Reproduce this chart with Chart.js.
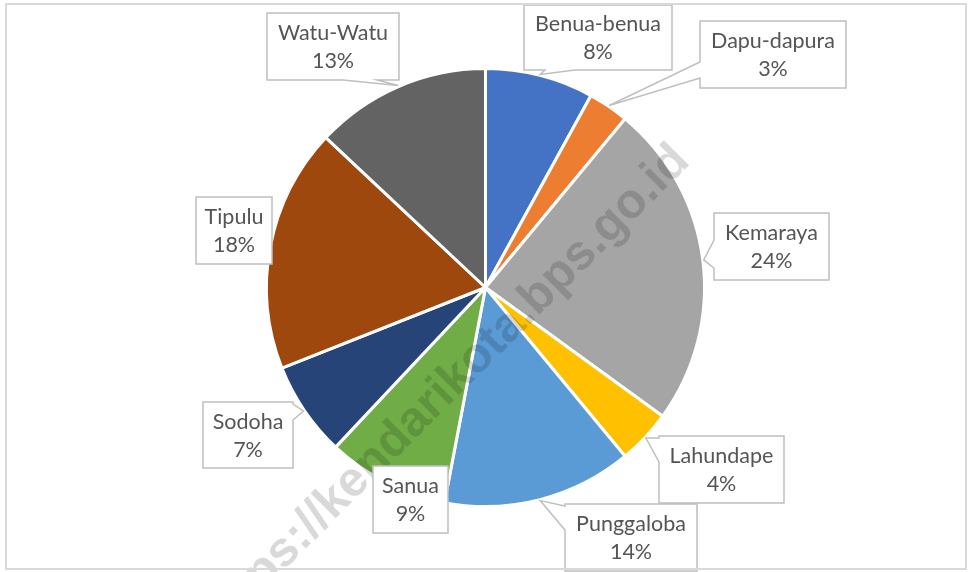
<!DOCTYPE html>
<html>
<head>
<meta charset="utf-8">
<script src="https://cdn.jsdelivr.net/npm/chart.js@4.4.1/dist/chart.umd.min.js"></script>
<style>
  html, body { margin: 0; padding: 0; background: #fff; }
  #wrap { width: 970px; height: 572px; }
</style>
</head>
<body>
<div id="wrap"><canvas id="pieChart" width="970" height="572"></canvas></div>
<script>
const kelurahan = ['Benua-benua', 'Dapu-dapura', 'Kemaraya', 'Lahundape', 'Punggaloba', 'Sanua', 'Sodoha', 'Tipulu', 'Watu-Watu'];
const persen = [8, 3, 24, 4, 14, 9, 7, 18, 13];
const warna = ['#4472C4', '#ED7D31', '#A5A5A5', '#FFC000', '#5B9BD5', '#70AD47', '#264478', '#9E480E', '#636363'];

// callout boxes: left, top, right, bottom, side of the wedge, wedge base from/to
const calloutBoxes = [
  [524, 5, 672, 70, 'bottom', 545, 575],
  [700, 21, 846, 88, 'left', 62, 78],
  [714, 213, 829, 280, 'left', 240, 268],
  [659, 436, 784, 503, 'left', 438, 462],
  [565, 504, 697, 571, 'left', 506, 530],
  [373, 466, 448, 533, null],
  [203, 402, 293, 468, 'right', 404, 420],
  [196, 197, 272, 264, null],
  [267, 13, 399, 80, 'bottom', 343, 377]
];

const total = persen.reduce((a, b) => a + b, 0);

function calloutPath(ctx, box, tip) {
  const [x1, y1, x2, y2, side, a, b] = box;
  ctx.beginPath();
  ctx.moveTo(x1, y1);
  if (side === 'top') { ctx.lineTo(a, y1); ctx.lineTo(tip.x, tip.y); ctx.lineTo(b, y1); }
  ctx.lineTo(x2, y1);
  if (side === 'right') { ctx.lineTo(x2, a); ctx.lineTo(tip.x, tip.y); ctx.lineTo(x2, b); }
  ctx.lineTo(x2, y2);
  if (side === 'bottom') { ctx.lineTo(b, y2); ctx.lineTo(tip.x, tip.y); ctx.lineTo(a, y2); }
  ctx.lineTo(x1, y2);
  if (side === 'left') { ctx.lineTo(x1, b); ctx.lineTo(tip.x, tip.y); ctx.lineTo(x1, a); }
  ctx.closePath();
}

const decor = {
  id: 'decor',
  beforeDraw(chart) {
    const ctx = chart.ctx;
    ctx.save();
    ctx.fillStyle = '#fff';
    ctx.fillRect(0, 0, chart.width, chart.height);
    ctx.restore();
  },
  afterDatasetsDraw(chart) {
    const ctx = chart.ctx;
    const arcs = chart.getDatasetMeta(0).data;

    // watermark
    ctx.save();
    ctx.translate(445, 390);
    ctx.rotate(-Math.PI / 4);
    ctx.font = 'bold 49px "Liberation Sans", Arial, sans-serif';
    ctx.fillStyle = 'rgba(0,0,0,0.15)';
    ctx.textAlign = 'center';
    ctx.textBaseline = 'middle';
    ctx.fillText('https://kendarikota.bps.go.id', 0, 0);
    ctx.restore();

    // callouts
    ctx.save();
    arcs.forEach((arc, i) => {
      const mid = (arc.startAngle + arc.endAngle) / 2;
      const r = arc.outerRadius + 1;
      const tip = { x: arc.x + Math.cos(mid) * r, y: arc.y + Math.sin(mid) * r };
      const box = calloutBoxes[i];
      calloutPath(ctx, box, tip);
      ctx.fillStyle = '#fff';
      ctx.fill();
      ctx.strokeStyle = '#bfbfbf';
      ctx.lineWidth = 1.5;
      ctx.stroke();
      const cx = (box[0] + box[2]) / 2;
      const cy = (box[1] + box[3]) / 2;
      ctx.fillStyle = '#555555';
      ctx.font = '21.5px Lato, "Open Sans", sans-serif';
      ctx.textAlign = 'center';
      ctx.textBaseline = 'middle';
      ctx.fillText(kelurahan[i], cx, cy - 13);
      ctx.fillText(Math.round(persen[i] / total * 100) + '%', cx, cy + 15);
    });
    ctx.restore();

    // outer frame
    ctx.save();
    ctx.strokeStyle = '#d9d9d9';
    ctx.lineWidth = 2;
    ctx.strokeRect(6, 4, 960, 565);
    ctx.restore();
  }
};

new Chart(document.getElementById('pieChart'), {
  type: 'pie',
  data: {
    labels: kelurahan,
    datasets: [{
      data: persen,
      backgroundColor: warna,
      borderColor: '#ffffff',
      borderWidth: 3,
      radius: 219
    }]
  },
  options: {
    responsive: false,
    devicePixelRatio: 1,
    animation: false,
    layout: { padding: { left: 268, right: 267, top: 70, bottom: 67 } },
    plugins: {
      legend: { display: false },
      tooltip: { enabled: false }
    }
  },
  plugins: [decor]
});
</script>
</body>
</html>
